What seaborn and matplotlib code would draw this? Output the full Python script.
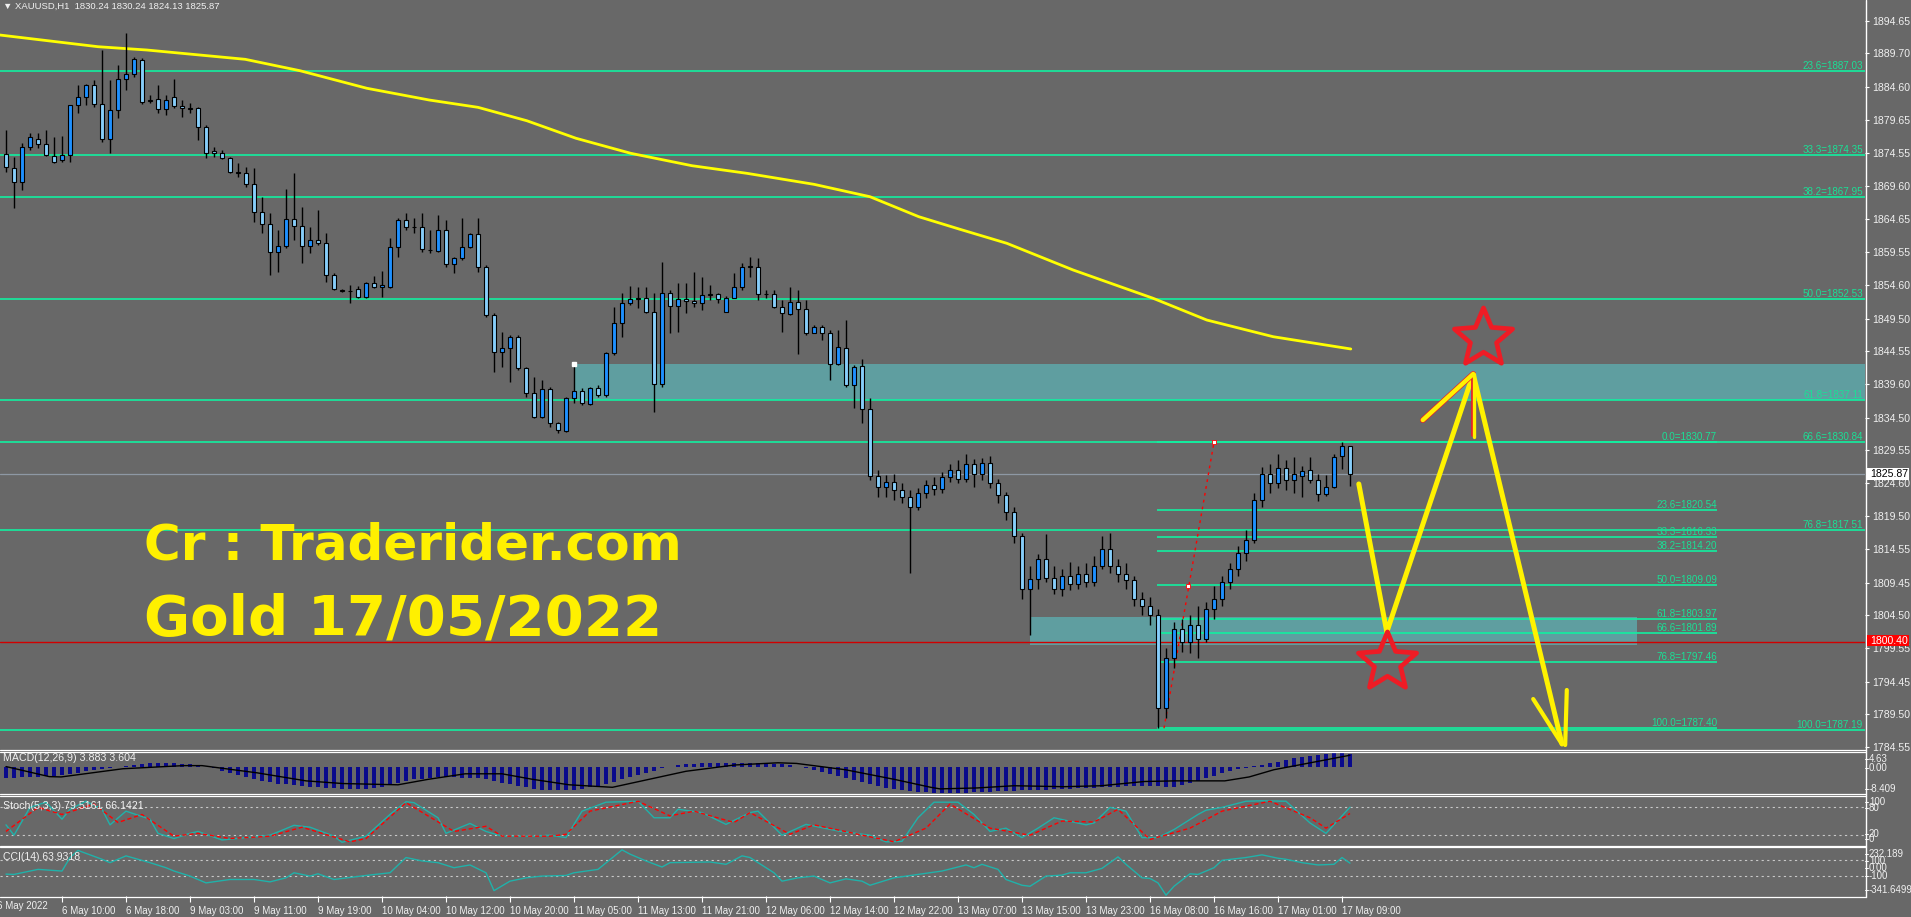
import numpy as np
import matplotlib
matplotlib.use("Agg")
import matplotlib.pyplot as plt
import seaborn as sns
from matplotlib.lines import Line2D
from matplotlib.patches import Rectangle
from matplotlib.path import Path
from matplotlib.markers import MarkerStyle

# ---------------- data ----------------
opens = [1874.44,1872.37,1870.15,1875.56,1876.67,1875.91,1874.14,1873.54,1874.29,1881.82,
         1883.13,1884.85,1881.97,1876.67,1881.06,1885.76,1886.52,1888.70,1882.63,1882.73,
         1881.22,1883.13,1881.72,1881.37,1881.37,1878.49,1874.95,1874.65,1873.79,1871.77,
         1871.51,1869.85,1865.60,1863.83,1859.64,1860.55,1864.54,1863.53,1860.55,1861.41,
         1861.00,1856.10,1853.83,1853.73,1853.93,1852.82,1854.84,1854.23,1854.34,1860.30,
         1864.44,1863.43,1863.43,1859.95,1859.79,1862.92,1857.72,1858.63,1860.40,1862.27,
         1857.37,1850.04,1844.38,1844.99,1846.65,1841.95,1838.27,1834.53,1838.77,1833.62,
         1832.51,1837.41,1838.57,1836.50,1839.03,1837.91,1844.23,1848.78,1851.81,1852.46,
         1852.67,1850.44,1839.58,1853.32,1851.40,1852.41,1852.21,1851.91,1853.07,1853.17,
         1850.55,1852.67,1854.34,1857.37,1857.27,1853.17,1853.17,1851.30,1850.19,1852.06,
         1850.90,1847.26,1848.27,1847.36,1842.61,1845.09,1839.43,1842.36,1835.74,1825.70,
         1823.90,1824.80,1823.50,1822.50,1821.00,1823.00,1824.20,1823.60,1825.50,1826.60,
         1825.20,1827.40,1825.90,1827.60,1824.50,1822.80,1820.20,1816.50,1808.50,1810.00,
         1813.00,1810.20,1808.50,1810.50,1809.20,1810.80,1809.50,1812.00,1814.50,1812.00,
         1810.80,1809.80,1807.00,1806.00,1804.50,1790.50,1798.00,1802.50,1800.50,1803.00,
         1801.00,1805.50,1807.00,1809.50,1811.50,1814.00,1816.00,1822.00,1826.00,1824.50,
         1826.80,1825.00,1825.70,1826.50,1825.00,1822.90,1824.00,1828.70,1830.24]
highs = [1878.08,1874.04,1876.06,1877.58,1877.58,1878.08,1877.07,1877.17,1881.82,1884.90,
         1885.00,1885.66,1890.21,1885.66,1887.94,1892.74,1889.20,1888.95,1883.39,1884.85,
         1883.39,1885.81,1882.63,1882.13,1881.62,1878.84,1875.56,1875.05,1874.04,1873.03,
         1872.52,1872.27,1867.98,1865.45,1862.92,1869.09,1871.51,1866.46,1863.43,1865.96,
         1862.42,1856.36,1853.93,1854.59,1854.44,1855.09,1855.95,1856.76,1861.66,1864.69,
         1865.45,1864.69,1865.45,1862.92,1865.20,1864.44,1858.88,1864.69,1862.42,1864.69,
         1857.62,1850.29,1847.51,1847.01,1847.01,1842.21,1840.69,1840.19,1839.18,1833.87,
         1837.66,1842.71,1838.92,1839.18,1839.43,1844.48,1851.30,1853.32,1854.44,1854.34,
         1854.34,1853.32,1858.12,1853.83,1854.84,1854.84,1856.61,1855.85,1854.59,1853.32,
         1852.92,1856.36,1857.87,1858.78,1858.63,1853.83,1853.83,1852.31,1854.34,1853.83,
         1852.31,1848.52,1848.52,1847.76,1847.76,1849.28,1842.46,1843.32,1837.41,1826.50,
         1825.80,1826.00,1824.60,1823.50,1823.80,1825.00,1825.50,1826.20,1827.50,1828.00,
         1829.00,1828.20,1828.40,1828.60,1825.20,1823.20,1821.00,1817.00,1812.00,1813.80,
         1816.80,1812.00,1811.50,1812.60,1812.00,1812.50,1813.50,1816.50,1817.00,1813.00,
         1812.50,1810.50,1808.00,1807.30,1805.50,1799.50,1803.50,1804.00,1804.50,1806.00,
         1806.50,1809.00,1810.50,1812.50,1815.00,1817.50,1823.00,1827.00,1827.50,1828.90,
         1828.00,1828.50,1827.10,1828.50,1826.00,1825.80,1829.00,1830.77,1830.24]
lows = [1871.77,1866.21,1868.99,1875.05,1875.30,1874.19,1873.03,1873.28,1873.18,1880.61,
        1881.87,1881.62,1876.31,1874.55,1879.85,1884.15,1886.16,1882.02,1882.13,1880.61,
        1880.36,1881.37,1880.00,1880.61,1876.57,1873.79,1874.04,1873.64,1871.51,1871.01,
        1869.49,1864.19,1862.42,1856.10,1856.61,1860.15,1861.41,1857.87,1859.39,1860.65,
        1855.09,1853.83,1853.58,1851.81,1852.57,1852.57,1854.08,1852.82,1854.08,1858.88,
        1862.92,1862.42,1859.64,1859.39,1859.64,1857.37,1856.36,1858.38,1860.15,1856.61,
        1849.79,1841.45,1842.21,1839.93,1841.70,1837.66,1834.38,1834.38,1833.11,1832.10,
        1832.35,1836.65,1836.40,1836.40,1837.66,1837.66,1843.98,1846.76,1851.55,1851.05,
        1850.29,1835.29,1839.18,1847.26,1847.51,1850.29,1851.30,1850.80,1852.31,1851.81,
        1850.55,1852.57,1853.83,1855.85,1852.31,1852.57,1851.05,1847.51,1850.04,1844.13,
        1847.01,1847.26,1846.25,1840.19,1842.46,1839.18,1835.89,1833.62,1825.00,1822.50,
        1822.50,1822.00,1821.50,1810.90,1820.50,1822.30,1822.80,1823.00,1824.80,1824.50,
        1824.80,1824.00,1825.00,1823.80,1821.60,1819.00,1815.50,1807.00,1801.50,1808.50,
        1809.50,1807.80,1807.50,1808.30,1808.50,1808.80,1809.00,1811.50,1811.00,1809.60,
        1808.50,1806.00,1804.60,1803.00,1787.40,1789.00,1796.50,1799.00,1798.80,1798.00,
        1800.50,1804.00,1806.00,1808.50,1810.50,1812.80,1815.50,1821.00,1823.00,1823.80,
        1823.50,1823.00,1822.40,1824.50,1821.90,1822.60,1823.80,1826.70,1824.13]
closes = [1872.52,1870.15,1875.56,1877.02,1875.91,1874.29,1873.28,1874.29,1881.82,1883.13,
          1884.85,1881.97,1876.67,1881.06,1885.76,1886.52,1888.80,1882.38,1882.53,1881.22,
          1882.63,1881.72,1881.37,1881.32,1878.49,1874.65,1874.65,1873.79,1871.77,1871.51,
          1869.85,1865.60,1863.83,1859.64,1860.55,1864.54,1863.53,1860.55,1861.41,1861.00,
          1856.10,1853.93,1853.73,1853.73,1852.82,1854.84,1854.23,1854.54,1860.30,1864.44,
          1863.33,1863.38,1860.00,1859.89,1862.92,1857.72,1858.63,1860.40,1862.27,1857.37,
          1850.04,1844.38,1844.99,1846.65,1841.95,1838.27,1834.53,1838.77,1833.62,1832.61,
          1837.41,1838.57,1836.65,1839.03,1837.91,1844.23,1848.78,1851.81,1852.46,1852.67,
          1850.44,1839.58,1853.32,1851.40,1852.41,1852.21,1851.91,1853.07,1853.17,1852.41,
          1852.67,1854.34,1857.27,1857.42,1853.17,1853.27,1851.30,1850.29,1852.06,1850.90,
          1847.26,1848.27,1847.36,1842.61,1845.24,1839.43,1842.21,1835.74,1825.70,1823.90,
          1824.80,1823.50,1822.50,1821.00,1823.00,1824.20,1823.60,1825.50,1826.60,1825.20,
          1827.40,1825.90,1827.60,1824.50,1822.80,1820.20,1816.50,1808.50,1810.00,1813.00,
          1810.20,1808.50,1810.50,1809.20,1810.80,1809.50,1812.00,1814.50,1812.00,1810.80,
          1809.80,1807.00,1806.00,1804.50,1790.50,1798.00,1802.50,1800.50,1803.00,1801.00,
          1805.50,1807.00,1809.50,1811.50,1814.00,1816.00,1822.00,1826.00,1824.50,1826.80,
          1825.00,1826.00,1826.40,1825.00,1822.90,1824.00,1828.50,1830.24,1825.87]

ma_idx = [-0.75, 11.5, 17.6, 29.9, 36.75, 45.1, 52.9, 59, 65.1, 71.25, 78.1, 85.75, 92.6,
          101, 108, 114.1, 119.25, 125.1, 133.4, 143.4, 150.1, 158.4, 168.1]
ma_val = [1892.48, 1890.71, 1890.21, 1888.80, 1887.07, 1884.41, 1882.63, 1881.52, 1879.49,
          1876.83, 1874.55, 1872.67, 1871.52, 1869.85, 1867.97, 1864.94, 1863.03, 1860.91,
          1856.86, 1852.57, 1849.28, 1846.75, 1844.89]

macd_hist = [-3.5,-3.5,-3.4,-3.3,-3.2,-3.1,-2.9,-2.7,
             -2.3,-1.9,-1.5,-1.1,-0.8,-0.5,-0.2,
             0.2,0.5,0.8,1.0,1.1,1.1,1.0,0.9,0.7,0.4,
             0.0,-0.6,-1.3,-2.0,-2.7,-3.3,-3.9,-4.5,-5.0,
             -5.4,-5.7,-6.0,-6.2,-6.4,-6.6,-6.8,-6.9,-7.0,-7.1,-7.1,-7.0,-6.9,
             -6.6,-6.0,-5.3,-4.7,-4.1,-3.8,-3.6,-3.4,
             -3.4,-3.4,-3.5,-3.5,-3.7,-4.0,-4.5,-5.1,
             -5.6,-6.1,-6.6,-7.0,-7.3,-7.5,-7.6,-7.6,
             -7.4,-7.1,-6.6,-6.1,-5.5,
             -4.8,-4.1,-3.4,-2.7,-2.0,-1.3,-0.6,0.0,
             0.4,0.7,0.9,1.0,1.1,1.2,1.2,1.2,1.2,1.1,1.1,1.0,0.9,0.7,0.4,
             0.0,-0.5,-1.1,-1.7,-2.4,-3.0,-3.7,-4.3,
             -5.0,-5.6,-6.2,-6.7,-7.1,-7.5,-7.8,-8.0,-8.2,-8.3,-8.4,-8.409,-8.4,
             -8.3,-8.2,-8.1,-8.0,-7.9,-7.8,-7.7,-7.6,-7.5,-7.4,
             -7.3,-7.2,-7.1,-7.0,-6.9,-6.8,-6.7,-6.6,-6.5,-6.4,-6.3,
             -6.2,-6.1,-6.1,-6.3,-6.6,-6.4,-5.9,-5.2,-4.5,
             -3.7,-2.9,-2.1,-1.4,-0.8,-0.3,0.1,
             0.6,1.1,1.6,2.1,2.6,3.0,3.4,3.8,4.1,4.4,4.63,3.883]
macd_sig_idx = [0, 5.4, 6.9, 14.6, 22.2, 24.5, 31.4, 37.5, 42.1, 49.0, 52.8, 57.4, 62.0, 65.8,
                70.4, 75.8, 80.4, 85.0, 91.1, 96.5, 98.8, 104.9, 111.0, 115.6, 116.75, 121.4,
                126.0, 132.2, 136.9, 142.3, 146.2, 152.35, 155.4, 158.5, 161.6, 164.7, 168]
macd_sig_val = [0.0, -3.2, -3.3, -0.7, 0.3, 0.3, -2.0, -4.55, -5.4, -5.8, -4.05, -2.3, -2.3,
                -4.05, -5.8, -6.6, -4.05, -1.5, 0.5, 1.2, 1.0, -1.0, -4.05, -6.6, -7.1, -6.8,
                -6.1, -6.4, -6.1, -4.75, -4.55, -4.55, -3.3, -1.0, 0.5, 2.0, 3.604]

stoch_idx = [0,1,3,5,7,8,10,12,13,15,18,19,21,23,24,27,30,33,36,38,41,42,45,48,50,51,54,55,58,60,
             62,66,68,70,72,75,79,81,83,84,87,90,93,94,97,100,104,108,110,112,114,116,119,121,
             123,125,127,129,131,135,136,138,140,142,144,146,149,150,152,155,157,160,163,165,168]
stoch_main = [42,20,79,90,54,75,92,75,42,71,54,24,13,24,28,10,15,20,41,37,18,5,18,64,91,89,57,24,
              45,28,18,18,20,15,71,90,92,57,57,75,68,43,68,71,20,43,29,20,6,7,57,90,90,64,28,35,
              15,35,57,42,46,79,71,15,15,32,64,73,79,92,93,92,46,24,79.5161]
stoch_sig_idx = [0,4,7,11,14,17,21,24,28,33,37,43,45,50,56,60,62,68,70,73,79,83,86,91,93,98,101,
                 106,111,115,118,123,128,132,136,139,143,148,152,158,163,165,168]
stoch_sig = [28,79,64,86,47,64,18,24,13,18,37,6,13,89,28,39,18,18,22,71,92,61,71,47,68,22,42,
             24,6,35,86,35,20,50,48,75,11,35,71,92,57,35,66.1421]

cci_idx = [0,1,4,7,8,9,12,13,15,18,20,21,23,25,28,31,33,35,36,38,39,41,45,48,50,52,54,56,58,60,
           61,63,65,67,70,71,74,77,78,80,82,83,88,90,92,93,96,97,99,101,103,105,107,108,111,114,
           117,120,121,122,124,125,127,128,130,132,133,135,137,139,140,142,143,144,145,146,148,
           149,151,152,155,157,159,160,162,164,166,167,168]
cci_val = [-75,-79,-15,-36,135,225,113,70,156,70,6,-36,-100,-186,-143,-143,-173,-122,-58,-100,-71,
           -143,-92,-58,135,92,70,6,41,-58,-284,-164,-122,-100,-92,-58,-15,232.189,178,92,15,70,79,
           49,156,135,-58,-164,-122,-100,-186,-135,-164,-216,-122,-79,-36,41,6,49,-15,-143,-216,
           -229,-100,-88,-58,-58,-2,143,49,-122,-130,-186,-341.6499,-229,-71,-79,6,100,135,169,
           126,113,70,41,49,135,63.93]

price_ticks = [1894.65,1889.70,1884.60,1879.65,1874.55,1869.60,1864.65,1859.55,1854.60,1849.50,
               1844.55,1839.60,1834.50,1829.55,1824.60,1819.50,1814.55,1809.45,1804.50,1799.55,
               1794.45,1789.50,1784.55]

fib_big_levels = [1887.03, 1874.35, 1867.95, 1852.53, 1837.11, 1830.84, 1817.51, 1787.19]
fib_big_labels = ["23.6=1887.03", "33.3=1874.35", "38.2=1867.95", "50.0=1852.53",
                  "61.8=1837.11", "66.6=1830.84", "76.8=1817.51", "100.0=1787.19"]
fib_small_levels = [1830.77, 1820.54, 1816.33, 1814.20, 1809.09, 1803.97, 1801.89, 1797.46, 1787.40]
fib_small_labels = ["0.0=1830.77", "23.6=1820.54", "33.3=1816.33", "38.2=1814.20", "50.0=1809.09",
                    "61.8=1803.97", "66.6=1801.89", "76.8=1797.46", "100.0=1787.40"]

time_idx = [7, 15, 23, 31, 39, 47, 55, 63, 71, 79, 87, 95, 103, 111, 119, 127, 135, 143, 151, 159, 167]
time_labels = ["6 May 10:00", "6 May 18:00", "9 May 03:00", "9 May 11:00", "9 May 19:00",
               "10 May 04:00", "10 May 12:00", "10 May 20:00", "11 May 05:00", "11 May 13:00",
               "11 May 21:00", "12 May 06:00", "12 May 14:00", "12 May 22:00", "13 May 07:00",
               "13 May 15:00", "13 May 23:00", "16 May 08:00", "16 May 16:00", "17 May 01:00",
               "17 May 09:00"]

# drawn annotations (bar index, price)
zigzag_idx = [169.1, 172.6, 183.4, 194.5]
zigzag_px = [1824.43, 1801.99, 1841.10, 1785.01]
star_idx = [184.6, 172.6]
star_px = [1846.55, 1797.44]
zone_idx = [(71.0, 232.4), (128.0, 203.9)]
zone_px = [(1837.11, 1842.60), (1800.00, 1804.30)]

bid, redline = 1825.87, 1800.40

# ---------------- layout ----------------
W, H = 1911, 917
BG = "#686868"
FIBC = "#12EFA0"
FIBT = "#1AE096"
TXT = "#F0F0F0"

sns.set_theme(style="dark")
plt.rcParams["font.family"] = ["Liberation Sans", "DejaVu Sans"]

fig = plt.figure(figsize=(W / 100, H / 100), dpi=100, facecolor=BG)


def rect(x0, y0, x1, y1):
    return [x0 / W, 1 - y1 / H, (x1 - x0) / W, (y1 - y0) / H]


XL = (-0.75, (1865 - 6) / 8)
ax = fig.add_axes(rect(0, 0, 1865, 749))
ax_m = fig.add_axes(rect(0, 752, 1865, 793))
ax_s = fig.add_axes(rect(0, 797, 1865, 845))
ax_c = fig.add_axes(rect(0, 847.5, 1865, 896))
for a in (ax, ax_m, ax_s, ax_c):
    a.set_facecolor(BG)
    a.set_xlim(*XL)
    for sp in a.spines.values():
        sp.set_visible(False)
    a.grid(False)
    a.set_xticks([])
    a.set_yticks([])

ax.set_ylim(1897.79 - 749 / 6.597, 1897.79)
ax_m.set_ylim(-8.409, 4.63)
ax_s.set_ylim(-0.7, 101)
ax_c.set_ylim(-352, 262)

# zones
for (x0, x1), (p0, p1) in zip(zone_idx, zone_px):
    ax.add_patch(Rectangle((x0, p0), x1 - x0, p1 - p0, facecolor="#5F9EA0", edgecolor="none", zorder=1))

# fib lines
for lv, lb in zip(fib_big_levels, fib_big_labels):
    ax.axhline(lv, color=FIBC, lw=1.2, zorder=2)
    ax.text(232.1, lv, lb, color=FIBT, fontsize=7.1, ha="right", va="bottom", zorder=6)
for lv, lb in zip(fib_small_levels, fib_small_labels):
    ax.hlines(lv, 143.9, 213.9, color=FIBC, lw=1.2, zorder=2)
    ax.text(213.9, lv, lb, color=FIBT, fontsize=7.1, ha="right", va="bottom", zorder=6)

ax.axhline(bid, color="#8E98A4", lw=0.9, zorder=2)
ax.axhline(redline, color="#D00000", lw=1.0, zorder=2)

# fib anchor dotted line
ax.plot([144.75, 151.0], [1787.40, 1830.77], color="red", lw=1.0, ls=(0, (2, 3)), zorder=3)
ax.plot([151.0, 147.8], [1830.77, 1808.96], ls="none", marker="s", ms=3, mfc="white", mec="red", mew=0.6, zorder=7)
ax.plot([71.0], [1842.6], ls="none", marker="s", ms=3, mfc="white", mec="white", zorder=7)

# MA
sns.lineplot(x=ma_idx, y=ma_val, ax=ax, color="#FFFF00", lw=2.0, estimator=None, sort=False, zorder=4)

# candles
idx = np.arange(len(closes))
o = np.array(opens); c = np.array(closes); h = np.array(highs); l = np.array(lows)
ax.vlines(idx, l, h, color="black", lw=1.0, zorder=5)
cols = np.where(c >= o, "#1E90FF", "#87CEFA")
ax.bar(idx, c - o, bottom=o, width=0.62, color=cols, edgecolor="black", linewidth=0.8, zorder=6)

# hand-drawn arrows
ax.plot(zigzag_idx, zigzag_px, color="#FFF200", lw=3.6, solid_capstyle="round", solid_joinstyle="round", zorder=8)
ax.plot([183.25, 183.25], [1841.1, 1831.8], color="#E8202A", lw=2.0, zorder=8)
ax.plot([183.5, 183.5], [1841.1, 1831.55], color="#FFF200", lw=2.4, solid_capstyle="round", zorder=9)
ax.plot([177.1, 183.4], [1834.12, 1841.10], color="#E8202A", lw=4.2, solid_capstyle="round", zorder=8)
ax.plot([177.1, 183.4], [1834.12, 1841.10], color="#FFF200", lw=3.2, solid_capstyle="round", zorder=9)
ax.plot([190.9, 194.4], [1791.83, 1785.17], color="#FFF200", lw=3.0, solid_capstyle="round", zorder=8)
ax.plot([195.1, 194.9], [1793.20, 1784.86], color="#FFF200", lw=3.0, solid_capstyle="round", zorder=8)

# stars
ang = np.pi / 2 + np.arange(10) * np.pi / 5
rad = np.where(np.arange(10) % 2 == 0, 1.0, 0.45)
verts = np.column_stack([rad * np.cos(ang), rad * np.sin(ang)])
verts = np.vstack([verts, verts[:1]])
star = MarkerStyle(Path(verts, closed=True), joinstyle="round")
ax.plot(star_idx, star_px, ls="none", marker=star, ms=44, mfc="none", mec="#EE1C25", mew=3.4, zorder=9)

# right price axis
ax.yaxis.tick_right()
ax.set_yticks(price_ticks)
ax.set_yticklabels([f"{p:.2f}" for p in price_ticks])
ax.tick_params(axis="y", colors="white", labelcolor=TXT, length=3, width=0.8, pad=2,
               labelsize=7.6, right=True, labelright=True)

# big text
fig.text(144 / W, 1 - 559 / H, "Cr : Traderider.com", color="#FFF000", fontsize=36,
         fontweight="bold", family="DejaVu Sans", va="baseline")
fig.text(144 / W, 1 - 634 / H, "Gold 17/05/2022", color="#FFF000", fontsize=40.5,
         fontweight="bold", family="DejaVu Sans", va="baseline")

# header
fig.text(3 / W, 1 - 6 / H, "\u25BC XAUUSD,H1  1830.24 1830.24 1824.13 1825.87", color=TXT,
         fontsize=6.8, va="center", family=["Liberation Sans", "DejaVu Sans"])

# price tags
fig.add_artist(Rectangle((1867 / W, 1 - 480 / H), 42 / W, 12 / H, transform=fig.transFigure,
                         facecolor="white", edgecolor="none", zorder=10))
fig.text(1870 / W, 1 - 474 / H, "1825.87", color="black", fontsize=7.6, va="center", zorder=11)
fig.add_artist(Rectangle((1867 / W, 1 - 646 / H), 42 / W, 11 / H, transform=fig.transFigure,
                         facecolor="#FF0000", edgecolor="none", zorder=10))
fig.text(1870 / W, 1 - 641 / H, "1800.40", color="white", fontsize=7.6, va="center", zorder=11)

# MACD
ax_m.bar(idx, macd_hist, width=0.4, color="#0A0A8C", edgecolor="none", linewidth=0, zorder=3)
sns.lineplot(x=macd_sig_idx, y=macd_sig_val, ax=ax_m, color="black", lw=1.0, estimator=None, sort=False, zorder=4)
fig.text(3 / W, 1 - 758 / H, "MACD(12,26,9) 3.883 3.604", color=TXT, fontsize=7.7, va="center")

# Stoch
for lv in (80, 20):
    ax_s.axhline(lv, color="#C8C8C8", lw=0.8, ls=(0, (2, 3)))
sns.lineplot(x=stoch_idx, y=stoch_main, ax=ax_s, color="#20B2AA", lw=1.0, estimator=None, sort=False)
sns.lineplot(x=stoch_sig_idx, y=stoch_sig, ax=ax_s, color="red", lw=1.0, estimator=None, sort=False)
ax_s.lines[-1].set_linestyle((0, (3, 2)))
fig.text(3 / W, 1 - 806 / H, "Stoch(5,3,3) 79.5161 66.1421", color=TXT, fontsize=7.7, va="center")

# CCI
for lv in (100, -100):
    ax_c.axhline(lv, color="#C8C8C8", lw=0.8, ls=(0, (2, 3)))
sns.lineplot(x=cci_idx, y=cci_val, ax=ax_c, color="#20B2AA", lw=1.0, estimator=None, sort=False)
fig.text(3 / W, 1 - 857 / H, "CCI(14) 63.9318", color=TXT, fontsize=7.5, va="center")

for a in (ax, ax_m, ax_s, ax_c):
    leg = a.get_legend()
    if leg:
        leg.remove()
    a.set_xlabel(""); a.set_ylabel("")

# sub-window scale labels
sub_labels = [("4.63", 759), ("0.00", 768), ("-8.409", 789),
              ("100", 802), ("80", 808), ("20", 834), ("0", 839),
              ("232.189", 854), ("100", 861), ("0.00", 868), ("-100", 876), ("-341.6499", 890)]
for s, yy in sub_labels:
    fig.text(1869 / W, 1 - yy / H, s, color=TXT, fontsize=7.0, va="center")
    fig.add_artist(Line2D([1865 / W, 1868 / W], [1 - yy / H] * 2, transform=fig.transFigure, color="white", lw=0.7))

# separators and frame
for yy in (749.5, 751.5, 794, 796, 845.5, 847, 896.8):
    fig.add_artist(Line2D([0, 1866 / W], [1 - yy / H] * 2, transform=fig.transFigure, color="white", lw=0.9))
fig.add_artist(Line2D([1865.5 / W] * 2, [1, 1 - 897 / H], transform=fig.transFigure, color="white", lw=1.0))

# time axis
ax_c.set_xticks(time_idx)
ax_c.set_xticklabels(time_labels)
for t in ax_c.get_xticklabels():
    t.set_horizontalalignment("left")
ax_c.tick_params(axis="x", colors="white", labelcolor=TXT, length=4, width=0.8, pad=3.5,
                 labelsize=7.0, bottom=True, direction="out")
fig.text(-3 / W, 1 - 906 / H, "6 May 2022", color=TXT, fontsize=7.0, va="center")

fig.savefig("out.png", dpi=100, facecolor=BG)
